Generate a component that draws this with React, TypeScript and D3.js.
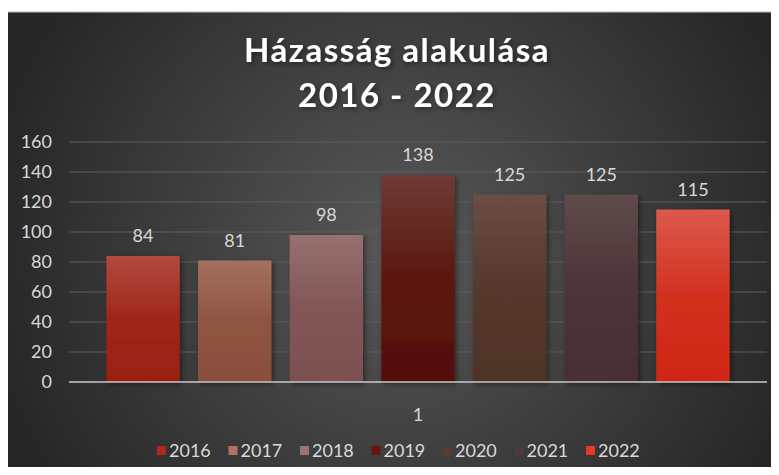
import { useEffect, useRef } from 'react';
import * as d3 from 'd3';

const years = ['2016', '2017', '2018', '2019', '2020', '2021', '2022'];
const values = [84, 81, 98, 138, 125, 125, 115];
const category = ['1'];
const yTicks = [0, 20, 40, 60, 80, 100, 120, 140, 160];
const topColors = ['#b2493e', '#a5705f', '#977070', '#6f3b35', '#6b4d45', '#5f4b4a', '#dc5a4c'];
const bottomColors = ['#9a1f10', '#8a4e3c', '#7d5050', '#560e06', '#4f3327', '#482e33', '#cf2714'];
const legendColors = ['#b0281e', '#b37262', '#9f7272', '#6a140f', '#5b3b31', '#4f3b3c', '#e43a27'];

const W = 779;
const H = 475;
const FONT = 'Lato, "Open Sans", sans-serif';

function App() {
  const ref = useRef<SVGSVGElement>(null);

  useEffect(() => {
    const svg = d3.select(ref.current).attr('width', W).attr('height', H);
    svg.selectAll('*').remove();

    const defs = svg.append('defs');
    const bg = defs
      .append('radialGradient')
      .attr('id', 'bg')
      .attr('gradientUnits', 'userSpaceOnUse')
      .attr('cx', 400)
      .attr('cy', 250)
      .attr('r', 420);
    bg.append('stop').attr('offset', '0%').attr('stop-color', '#585858');
    bg.append('stop').attr('offset', '100%').attr('stop-color', '#262626');

    years.forEach((y, i) => {
      const g = defs
        .append('linearGradient')
        .attr('id', `bar${i}`)
        .attr('x1', 0)
        .attr('y1', 0)
        .attr('x2', 0)
        .attr('y2', 1);
      g.append('stop').attr('offset', '0%').attr('stop-color', topColors[i]);
      g.append('stop').attr('offset', '50%').attr('stop-color', d3.interpolateRgb(topColors[i], bottomColors[i])(0.8));
      g.append('stop').attr('offset', '100%').attr('stop-color', bottomColors[i]);
    });

    const shadow = defs.append('filter').attr('id', 'shadow').attr('x', '-20%').attr('y', '-20%').attr('width', '140%').attr('height', '140%');
    shadow
      .append('feDropShadow')
      .attr('dx', 2)
      .attr('dy', 2)
      .attr('stdDeviation', 2.5)
      .attr('flood-color', '#000')
      .attr('flood-opacity', 0.45);

    // background panel
    svg.append('rect').attr('width', W).attr('height', H).attr('fill', '#fff');
    svg
      .append('rect')
      .attr('x', 7)
      .attr('y', 12)
      .attr('width', W - 7)
      .attr('height', H - 12)
      .attr('fill', 'url(#bg)')
      .attr('stroke', '#bcbcbc')
      .attr('stroke-width', 1);

    // title
    const title = svg
      .append('text')
      .attr('text-anchor', 'middle')
      .attr('font-family', FONT)
      .attr('font-weight', 'bold')
      .attr('font-size', 33)
      .attr('letter-spacing', 1.5)
      .attr('fill', '#fff')
      .attr('filter', 'url(#shadow)');
    title.append('tspan').attr('x', 397).attr('y', 62).text('Házasság alakulása');
    title.append('tspan').attr('x', 397).attr('y', 107).text('2016 - 2022');

    const x0 = d3.scaleBand().domain(category).range([69, 767]).paddingOuter(0.06);
    const x1 = d3
      .scaleBand()
      .domain(years)
      .range([0, x0.bandwidth()])
      .paddingInner(0.2)
      .paddingOuter(0);
    const y = d3.scaleLinear().domain([0, 160]).range([382, 142]);

    // grid
    svg
      .append('g')
      .selectAll('line')
      .data(yTicks.slice(1))
      .join('line')
      .attr('x1', 69)
      .attr('x2', 767)
      .attr('y1', d => y(d))
      .attr('y2', d => y(d))
      .attr('stroke', '#5e5e5e')
      .attr('stroke-width', 1);

    // y axis labels
    svg
      .append('g')
      .selectAll('text')
      .data(yTicks)
      .join('text')
      .attr('x', 52)
      .attr('y', d => y(d))
      .attr('dy', '0.35em')
      .attr('text-anchor', 'end')
      .attr('font-family', FONT)
      .attr('font-size', 18)
      .attr('fill', '#d9d9d9')
      .text(d => d);

    // bars
    const gx = x0('1') ?? 0;
    svg
      .append('g')
      .selectAll('rect')
      .data(values)
      .join('rect')
      .attr('x', (d, i) => gx + (x1(years[i]) ?? 0))
      .attr('y', d => y(d))
      .attr('width', x1.bandwidth())
      .attr('height', d => y(0) - y(d))
      .attr('fill', (d, i) => `url(#bar${i})`)
      .attr('filter', 'url(#shadow)');

    // data labels
    svg
      .append('g')
      .selectAll('text')
      .data(values)
      .join('text')
      .attr('x', (d, i) => gx + (x1(years[i]) ?? 0) + x1.bandwidth() / 2)
      .attr('y', d => y(d) - 14)
      .attr('text-anchor', 'middle')
      .attr('font-family', FONT)
      .attr('font-size', 18)
      .attr('fill', '#d9d9d9')
      .text(d => d);

    // baseline
    svg
      .append('line')
      .attr('x1', 69)
      .attr('x2', 767)
      .attr('y1', y(0))
      .attr('y2', y(0))
      .attr('stroke', '#c8c8c8')
      .attr('stroke-width', 1.5);

    // category label
    svg
      .append('text')
      .attr('x', gx + x0.bandwidth() / 2)
      .attr('y', 421)
      .attr('text-anchor', 'middle')
      .attr('font-family', FONT)
      .attr('font-size', 18)
      .attr('fill', '#d9d9d9')
      .text(category[0]);

    // legend
    const legend = svg.append('g');
    const itemW = 71.5;
    const startX = 157;
    years.forEach((yr, i) => {
      const lx = startX + i * itemW;
      legend
        .append('rect')
        .attr('x', lx)
        .attr('y', 446)
        .attr('width', 9)
        .attr('height', 9)
        .attr('fill', legendColors[i]);
      legend
        .append('text')
        .attr('x', lx + 12)
        .attr('y', 451)
        .attr('dy', '0.35em')
        .attr('font-family', FONT)
        .attr('font-size', 18)
        .attr('fill', '#d9d9d9')
        .text(yr);
    });

    return () => {
      svg.selectAll('*').remove();
    };
  }, []);

  return <svg ref={ref} role="img" aria-label="Házasság alakulása 2016 - 2022" style={{ display: 'block', margin: '-8px' }} />;
}

export default App;
